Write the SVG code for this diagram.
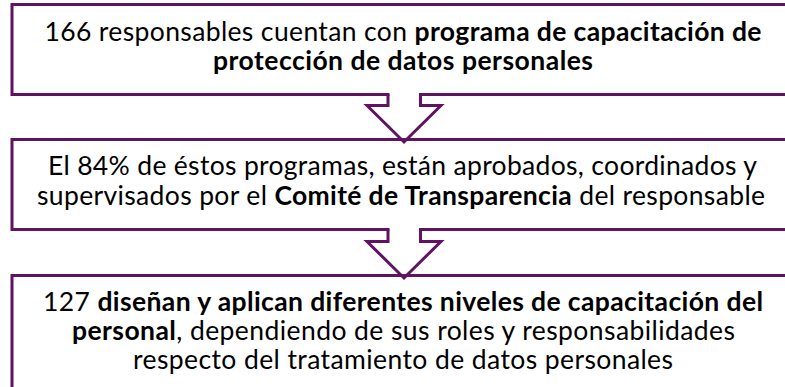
<svg xmlns="http://www.w3.org/2000/svg" width="785" height="387" viewBox="0 0 785 387">
<style>
.box{fill:none;stroke:#611263;stroke-width:3}
.arr{fill:none;stroke:#611263;stroke-width:3;stroke-linejoin:miter}
.gap{fill:#ffffff;stroke:none}
text{font-family:Lato,"Open Sans","Liberation Sans",sans-serif;font-size:26.5px;fill:#000000;text-anchor:middle}
.b{font-weight:bold}
</style>
<rect x="0" y="0" width="785" height="387" fill="#ffffff"/>
<g id="node1">
<rect class="box" x="12" y="4.5" width="800" height="90"/>
<text x="403" y="41" textLength="717" lengthAdjust="spacing">166 responsables cuentan con <tspan class="b">programa de capacitación de</tspan></text>
<text x="403" y="70" class="b" textLength="380" lengthAdjust="spacing">protección de datos personales</text>
</g>
<g id="node2">
<rect class="box" x="12" y="139.5" width="800" height="90"/>
<text x="402.5" y="175" textLength="709" lengthAdjust="spacing">El 84% de éstos programas, están aprobados, coordinados y</text>
<text x="401" y="205" textLength="728" lengthAdjust="spacing">supervisados por el <tspan class="b">Comité de Transparencia</tspan> del responsable</text>
</g>
<g id="node3">
<rect class="box" x="12" y="275.5" width="800" height="150"/>
<text x="403" y="311" textLength="720" lengthAdjust="spacing">127 <tspan class="b">diseñan y aplican diferentes niveles de capacitación del</tspan></text>
<text x="403.5" y="340" textLength="663" lengthAdjust="spacing"><tspan class="b">personal</tspan>, dependiendo de sus roles y responsabilidades</text>
<text x="403" y="369" textLength="540" lengthAdjust="spacing">respecto del tratamiento de datos personales</text>
</g>
<g id="connectors">
<rect class="gap" x="389.5" y="92" width="29.5" height="5"/>
<polyline class="arr" points="388,94.5 388,105.5 367,105.5 404,142 441,105.5 420.5,105.5 420.5,94.5"/>
<rect class="gap" x="389.5" y="227" width="29.5" height="5"/>
<polyline class="arr" points="388,229.5 388,241.5 367,241.5 404,278 441,241.5 420.5,241.5 420.5,229.5"/>
</g>
</svg>
